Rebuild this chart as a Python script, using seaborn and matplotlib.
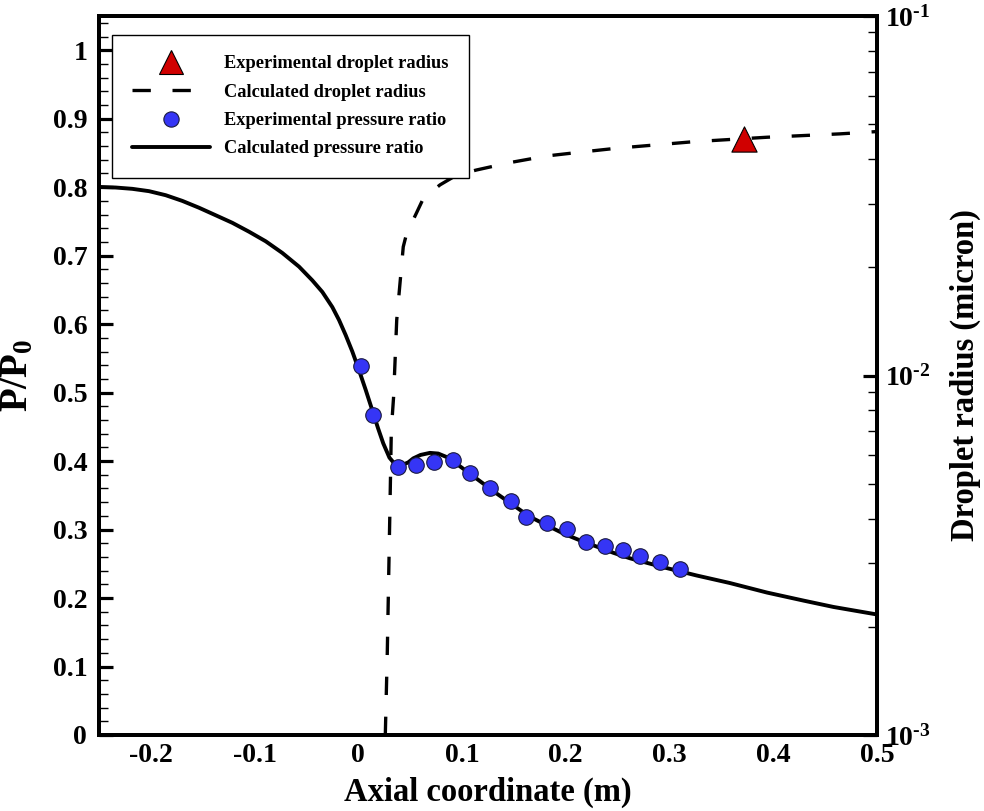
import numpy as np
import matplotlib
matplotlib.use("Agg")
import matplotlib.pyplot as plt
from matplotlib.ticker import MultipleLocator, LogLocator, NullFormatter, FuncFormatter
from matplotlib.lines import Line2D
import seaborn as sns

# Calculated pressure ratio along the nozzle axis
calc_p_x = [-0.25, -0.2339, -0.2179, -0.2018, -0.1857, -0.1697, -0.1536, -0.1375, -0.1215,
            -0.1054, -0.0893, -0.0733, -0.0572, -0.0444, -0.0347, -0.0251, -0.0186, -0.0122,
            -0.0058, 0.0006, 0.0071, 0.0135, 0.019, 0.024, 0.030, 0.035, 0.0417, 0.048,
            0.053, 0.060, 0.069, 0.077, 0.085, 0.093, 0.101, 0.117, 0.133, 0.149, 0.165,
            0.182, 0.198, 0.214, 0.230, 0.246, 0.262, 0.294, 0.326, 0.358, 0.394, 0.430,
            0.458, 0.5]
calc_p_y = [0.8004, 0.7995, 0.7976, 0.7942, 0.7883, 0.780, 0.770, 0.759, 0.748,
            0.735, 0.721, 0.704, 0.684, 0.664, 0.647, 0.625, 0.606, 0.584,
            0.560, 0.533, 0.504, 0.474, 0.448, 0.426, 0.405, 0.396, 0.394, 0.398,
            0.404, 0.409, 0.412, 0.411, 0.406, 0.398, 0.389, 0.371, 0.353, 0.336, 0.319,
            0.306, 0.294, 0.284, 0.275, 0.266, 0.258, 0.245, 0.233, 0.222, 0.208, 0.196,
            0.187, 0.176]

# Measured pressure ratio
exp_p_x = [0.0026, 0.0144, 0.0385, 0.0556, 0.073, 0.0916, 0.108, 0.127, 0.147, 0.162,
           0.182, 0.201, 0.219, 0.238, 0.255, 0.272, 0.291, 0.310]
exp_p_y = [0.539, 0.467, 0.392, 0.394, 0.399, 0.401, 0.383, 0.361, 0.341, 0.319,
           0.310, 0.301, 0.282, 0.276, 0.270, 0.262, 0.252, 0.242]

# Calculated droplet radius (micron)
calc_r_x = [0.026, 0.0279, 0.0292, 0.0305, 0.0318, 0.034, 0.037, 0.0433, 0.0465, 0.056,
            0.0627, 0.0787, 0.0948, 0.114, 0.146, 0.1815, 0.217, 0.25, 0.323, 0.394,
            0.464, 0.5]
calc_r_y = [0.00100, 0.00169, 0.0027, 0.00432, 0.00705, 0.00873, 0.01426, 0.0228, 0.0248, 0.0283,
            0.0311, 0.0339, 0.0361, 0.0373, 0.0391, 0.0408, 0.0419, 0.0429, 0.0447, 0.0460,
            0.0470, 0.0477]

# Measured droplet radius (micron)
exp_r_x = [0.372]
exp_r_y = [0.0454]

legend_labels = ["Experimental droplet radius", "Calculated droplet radius",
                 "Experimental pressure ratio", "Calculated pressure ratio"]

sns.set_theme(style="white")
plt.rcParams["font.family"] = ["Liberation Serif", "DejaVu Serif"]
plt.rcParams["font.weight"] = "bold"
plt.rcParams["mathtext.fontset"] = "custom"
plt.rcParams["mathtext.rm"] = "Liberation Serif:bold"
plt.rcParams["mathtext.it"] = "Liberation Serif:bold"
plt.rcParams["mathtext.bf"] = "Liberation Serif:bold"
plt.rcParams["axes.unicode_minus"] = False
for key in ("text.color", "axes.labelcolor", "xtick.color", "ytick.color", "axes.edgecolor"):
    plt.rcParams[key] = "black"

fig = plt.figure(figsize=(9.84, 8.11), dpi=100)
ax = fig.add_axes([99 / 984, 76 / 811, 778 / 984, 719 / 811])
ax2 = ax.twinx()

LW = 2.8
DASH = (5.5, 6.5)
BLUE = "#3535f5"
RED = "#d00000"

sns.lineplot(x=calc_p_x, y=calc_p_y, ax=ax, color="black", lw=LW, sort=False)
sns.scatterplot(x=exp_p_x, y=exp_p_y, ax=ax, s=125, color=BLUE,
                edgecolor="#1a1a40", linewidth=0.8, zorder=3)

sns.lineplot(x=calc_r_x, y=calc_r_y, ax=ax2, color="black", lw=2.4, sort=False)
ax2.lines[0].set_dashes(DASH)
sns.scatterplot(x=exp_r_x, y=exp_r_y, ax=ax2, marker="^", s=330, color=RED,
                edgecolor="black", linewidth=0.8, zorder=3)

# Left axis: pressure ratio
ax.set_xlim(-0.25, 0.5)
ax.set_ylim(0, 1.05)
ax.xaxis.set_major_locator(MultipleLocator(0.1))
ax.xaxis.set_minor_locator(MultipleLocator(0.02))
ax.yaxis.set_major_locator(MultipleLocator(0.1))
ax.yaxis.set_minor_locator(MultipleLocator(0.02))


def fmt_lin(v, pos):
    if abs(v) < 1e-9:
        return "0"
    if abs(v - 1) < 1e-9:
        return "1"
    return f"{v:.1f}"


ax.xaxis.set_major_formatter(FuncFormatter(fmt_lin))
ax.yaxis.set_major_formatter(FuncFormatter(fmt_lin))

# Right axis: droplet radius on a log scale
ax2.set_yscale("log")
ax2.set_ylim(1e-3, 1e-1)
ax2.yaxis.set_major_locator(LogLocator(base=10, numticks=10))
ax2.yaxis.set_minor_locator(LogLocator(base=10, subs=np.arange(2, 10), numticks=20))
ax2.yaxis.set_minor_formatter(NullFormatter())
ax2.yaxis.set_major_formatter(
    FuncFormatter(lambda v, pos: "10$^{\\text{-%d}}$" % round(-np.log10(v))))

for a in (ax, ax2):
    for s in a.spines.values():
        s.set_linewidth(2.8)
        s.set_color("black")

ax.tick_params(axis="x", which="major", direction="in", length=10, width=2.3,
               labelsize=20, pad=6, top=False)
ax.tick_params(axis="y", which="major", direction="in", length=10, width=2.3,
               labelsize=20, pad=8.5, right=False)
ax.tick_params(axis="both", which="minor", direction="in", length=6.5, width=1.0,
               top=False, right=False)
ax2.tick_params(axis="y", which="major", direction="in", length=10, width=2.3,
                labelsize=20, pad=5.5)
ax2.tick_params(axis="y", which="minor", direction="in", length=6.5, width=1.0)

for lab in ax.get_xticklabels() + ax.get_yticklabels() + ax2.get_yticklabels():
    lab.set_fontweight("bold")

ax.set_xlabel("Axial coordinate (m)", fontsize=23.5, fontweight="bold", labelpad=6)
ax.set_ylabel("P/P$_0$", fontsize=28, fontweight="bold", labelpad=12)
ax2.set_ylabel("Droplet radius (micron)", fontsize=23.5, fontweight="bold", labelpad=14)

handles = [
    Line2D([], [], marker="^", ls="none", markersize=17, markerfacecolor=RED,
           markeredgecolor="black", markeredgewidth=0.8),
    Line2D([], [], color="black", lw=2.4, dashes=DASH),
    Line2D([], [], marker="o", ls="none", markersize=11, markerfacecolor=BLUE,
           markeredgecolor="#1a1a40", markeredgewidth=0.8),
    Line2D([], [], color="black", lw=LW),
]
leg = ax2.legend(handles, legend_labels, loc="upper left",
                 bbox_to_anchor=(13 / 778, 1 - 19 / 719),
                 fancybox=False, framealpha=1, edgecolor="black", handlelength=4.2,
                 handletextpad=0.8, borderpad=1.1, labelspacing=0.62,
                 prop={"family": "Liberation Serif", "weight": "bold", "size": 13.25},
                 borderaxespad=0)
leg.get_frame().set_linewidth(1.0)

fig.savefig("out.png", dpi=100)
